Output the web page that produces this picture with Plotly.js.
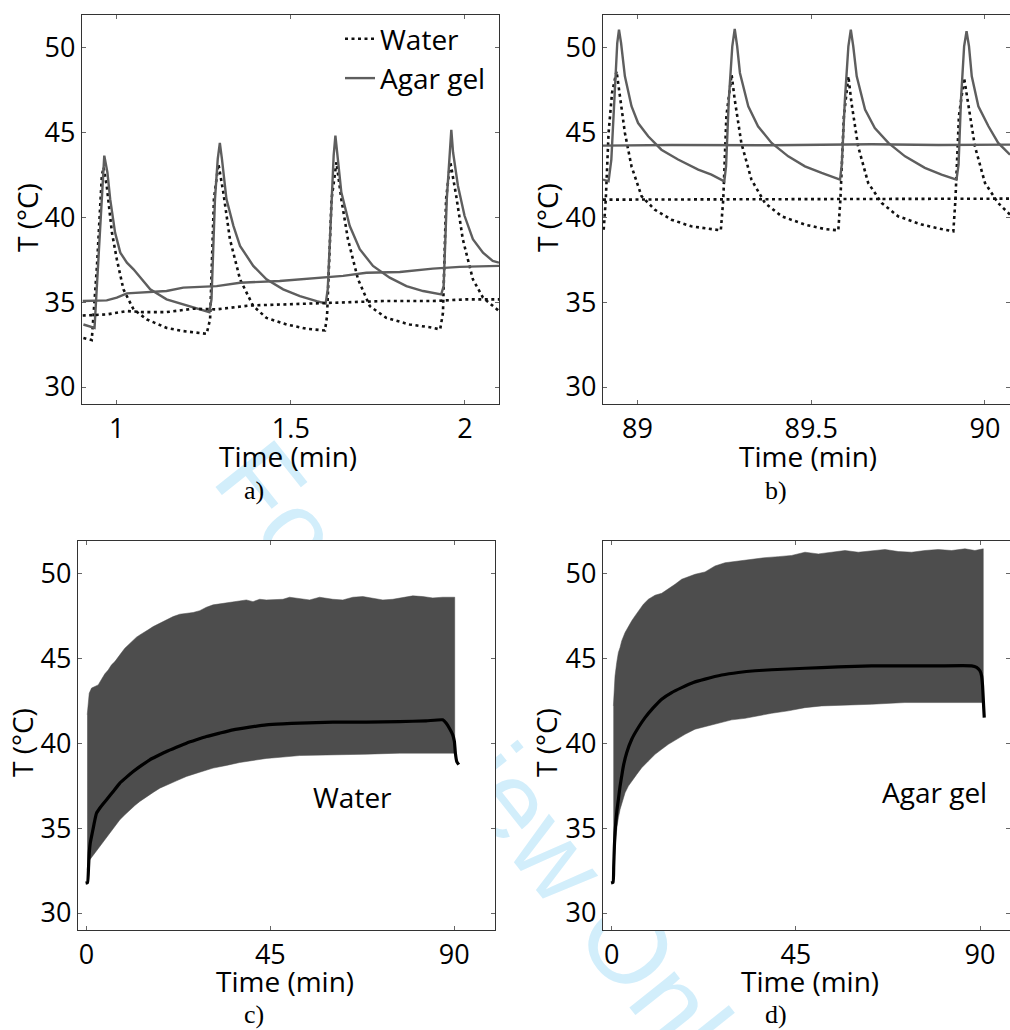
<!DOCTYPE html>
<html>
<head>
<meta charset="utf-8">
<script src="https://cdn.plot.ly/plotly-3.0.1.min.js"></script>
<style>
html,body{margin:0;padding:0;background:#fff;overflow:hidden;}
#wm{position:absolute;left:0;top:0;z-index:0;}
#chart{position:absolute;left:0;top:0;width:1010px;height:1030px;z-index:1;}
</style>
</head>
<body>
<svg id="wm" width="1010" height="1030"><text x="210" y="480" transform="rotate(51.5 210 480)" font-family="Liberation Sans, Arial, sans-serif" font-size="109" fill="#d2eefb">For Review Only</text></svg>
<div id="chart"></div>
<script>
// ---------- Panel a: first minutes (Water dotted, Agar gel solid) ----------
const aWaterT = [0.904,0.916,0.928,0.943,0.957,0.962,0.971,0.986,1.000,1.019,1.048,1.086,1.143,1.191,1.258,1.268,1.279,1.292,1.306,1.325,1.354,1.392,1.430,1.488,1.545,1.598,1.604,1.617,1.631,1.645,1.664,1.693,1.727,1.774,1.841,1.899,1.929,1.937,1.946,1.958,1.975,1.994,2.023,2.052,2.080,2.098];
const aWaterV = [32.89,32.83,32.76,37.13,42.44,42.93,41.85,39.09,37.52,35.75,34.57,33.98,33.48,33.29,33.13,33.98,41.06,43.13,41.46,38.70,36.34,34.76,34.07,33.68,33.43,33.33,34.17,41.06,43.23,41.06,38.70,36.34,34.76,34.07,33.68,33.52,33.39,34.37,41.06,43.27,41.26,38.70,36.34,35.26,34.76,34.47];
const aAgarT = [0.904,0.936,0.964,0.973,0.981,0.995,1.010,1.029,1.048,1.096,1.143,1.191,1.239,1.266,1.272,1.282,1.290,1.296,1.302,1.315,1.335,1.354,1.392,1.430,1.478,1.526,1.574,1.600,1.606,1.617,1.623,1.628,1.634,1.645,1.669,1.698,1.736,1.784,1.832,1.880,1.932,1.939,1.948,1.956,1.961,1.966,1.980,1.999,2.023,2.052,2.080,2.098];
const aAgarV = [33.68,33.48,43.62,42.64,41.06,39.09,37.91,37.32,36.93,35.75,35.16,34.86,34.57,34.41,35.16,41.06,43.43,44.37,43.43,41.06,39.49,38.31,37.13,36.34,35.75,35.35,35.06,34.92,35.75,41.06,43.62,44.80,43.62,41.46,39.49,38.11,37.13,36.44,35.94,35.65,35.45,35.94,41.06,43.82,45.14,43.82,41.85,40.08,38.70,37.91,37.42,37.32];
const aWaterMeanT = [0.902,0.971,1.029,1.076,1.143,1.220,1.287,1.382,1.478,1.574,1.669,1.765,1.908,2.004,2.098];
const aWaterMeanV = [34.21,34.27,34.47,34.41,34.41,34.61,34.57,34.80,34.86,34.92,35.00,35.06,35.06,35.16,35.16];
const aAgarMeanT = [0.902,0.971,1.000,1.029,1.143,1.191,1.287,1.354,1.468,1.574,1.650,1.717,1.813,1.908,1.985,2.098];
const aAgarMeanV = [35.06,35.10,35.26,35.51,35.65,35.85,35.94,36.14,36.24,36.44,36.54,36.73,36.77,36.97,37.07,37.13];

// ---------- Panel b: last minutes ----------
const bWaterT = [88.903,88.909,88.917,88.927,88.940,88.949,88.964,88.983,89.012,89.050,89.098,89.155,89.213,89.240,89.247,89.256,89.271,89.280,89.299,89.328,89.367,89.415,89.482,89.539,89.578,89.584,89.594,89.607,89.616,89.635,89.664,89.703,89.750,89.818,89.875,89.909,89.915,89.925,89.940,89.952,89.971,90.000,90.038,90.072];
const bWaterV = [39.26,41.03,44.96,47.31,48.59,47.31,44.96,42.99,41.23,40.44,39.85,39.46,39.30,39.22,41.03,45.94,48.39,46.92,44.37,42.21,40.83,40.05,39.56,39.30,39.22,41.03,45.94,48.29,46.72,44.17,42.01,40.83,40.05,39.56,39.30,39.17,41.03,45.94,48.19,46.72,44.17,42.01,40.83,40.15];
const bAgarT = [88.901,88.917,88.925,88.935,88.942,88.947,88.953,88.964,88.983,89.002,89.031,89.069,89.117,89.175,89.213,89.250,89.255,89.263,89.273,89.280,89.287,89.295,89.319,89.347,89.386,89.434,89.482,89.530,89.583,89.588,89.597,89.607,89.614,89.621,89.631,89.655,89.683,89.722,89.770,89.827,89.875,89.918,89.924,89.931,89.940,89.947,89.954,89.962,89.981,90.010,90.038,90.072];
const bAgarV = [42.21,42.11,43.39,47.90,50.25,51.04,50.25,48.29,46.53,45.54,44.76,43.97,43.39,42.80,42.50,42.11,42.99,46.92,50.06,51.08,50.06,48.49,46.53,45.35,44.37,43.58,42.99,42.60,42.21,43.09,46.92,50.06,51.04,50.06,48.29,46.33,45.25,44.37,43.58,42.90,42.50,42.21,43.09,46.92,50.06,50.94,50.06,48.29,46.53,45.35,44.37,43.68];
const bWaterMeanT = [88.901,89.290,89.674,90.072];
const bWaterMeanV = [41.03,41.03,41.07,41.09];
const bAgarMeanT = [88.901,89.098,89.386,89.674,89.866,90.072];
const bAgarMeanV = [44.21,44.25,44.23,44.29,44.25,44.27];

// ---------- Panel c: Water, full 90 min (max/min envelope and mean) ----------
const cUpperT = [0.16,0.41,0.65,1.22,2.04,2.85,3.67,4.48,5.30,6.11,6.93,7.74,8.56,9.37,10.19,11.00,12.22,13.04,13.85,15.08,16.30,17.93,19.56,21.19,22.82,24.45,26.08,27.71,29.34,30.97,32.60,34.23,35.86,37.49,39.12,40.75,42.38,44.01,45.64,48.08,49.71,52.16,54.60,57.05,60.31,62.75,65.20,67.64,70.09,72.53,74.98,77.42,79.87,82.31,84.76,87.20,90.14];
const cUpperV = [41.67,42.60,42.94,43.24,43.33,43.43,43.76,44.08,44.31,44.61,44.80,45.10,45.33,45.59,45.78,45.98,46.24,46.37,46.47,46.67,46.86,47.06,47.25,47.45,47.59,47.65,47.69,47.80,48.00,48.14,48.20,48.27,48.33,48.39,48.43,48.33,48.47,48.43,48.43,48.47,48.59,48.53,48.43,48.59,48.47,48.43,48.59,48.63,48.53,48.43,48.47,48.59,48.67,48.63,48.55,48.59,48.59];
const cLowerT = [0.16,0.41,0.81,1.63,2.44,3.26,4.07,4.89,5.70,6.93,8.15,9.37,10.59,11.82,13.04,14.67,16.30,17.93,19.56,22.00,24.45,27.71,30.97,34.23,37.49,40.75,44.01,48.08,52.16,56.23,60.31,68.46,76.61,84.76,90.14];
const cLowerV = [32.55,32.94,33.14,33.43,33.73,33.96,34.25,34.51,34.75,35.10,35.49,35.78,36.08,36.33,36.57,36.86,37.10,37.35,37.55,37.78,38.04,38.29,38.53,38.69,38.86,38.98,39.10,39.18,39.27,39.29,39.31,39.35,39.41,39.41,39.41];
const cMeanT = [-0.24,0.24,0.49,0.65,0.90,1.22,1.63,2.04,2.44,3.26,4.07,4.89,6.52,8.15,9.78,11.41,13.45,15.48,17.52,19.56,22.00,24.45,26.89,29.34,32.60,35.86,39.93,44.01,48.08,52.16,60.31,68.46,76.61,83.13,87.20,88.02,88.83,89.65,90.06,90.30,90.63,91.12];
const cMeanV = [31.76,31.80,32.75,33.53,34.12,34.51,35.00,35.49,35.88,36.18,36.43,36.67,37.16,37.65,38.00,38.33,38.69,39.02,39.27,39.51,39.76,40.00,40.20,40.39,40.59,40.78,40.94,41.08,41.14,41.18,41.24,41.24,41.27,41.31,41.37,41.18,40.88,40.49,40.10,39.41,38.92,38.73];

// ---------- Panel d: Agar gel, full 90 min (max/min envelope and mean) ----------
const dUpperT = [0.41,0.57,0.81,1.22,1.63,2.04,2.44,3.26,4.07,4.89,5.70,6.51,7.74,8.96,10.59,12.21,13.84,15.47,17.10,18.73,20.36,22.80,25.24,27.69,30.94,34.20,37.46,40.72,43.97,47.23,50.49,53.75,57.00,60.26,63.52,66.78,70.03,73.29,76.55,79.80,83.06,86.32,88.76,90.80];
const dUpperV = [42.19,43.36,43.95,44.74,45.34,45.63,46.02,46.51,46.90,47.20,47.49,47.78,48.18,48.47,48.71,48.82,49.06,49.35,49.65,49.80,49.94,50.08,50.43,50.62,50.72,50.86,50.92,50.98,51.05,51.24,51.14,51.24,51.34,51.24,51.34,51.40,51.28,51.24,51.34,51.40,51.34,51.44,51.34,51.44];
const dLowerT = [0.41,0.65,0.98,1.30,1.63,2.04,2.44,3.26,4.07,4.89,6.11,7.33,8.96,10.59,12.21,13.84,15.47,17.92,20.36,22.80,26.06,29.32,32.57,35.83,39.09,43.16,47.23,51.30,55.37,63.52,71.66,79.80,87.95,90.80];
const dLowerV = [32.36,33.34,34.33,35.11,35.61,36.10,36.49,37.08,37.47,37.77,38.16,38.55,38.95,39.34,39.64,39.93,40.19,40.52,40.82,40.97,41.17,41.37,41.46,41.60,41.76,41.90,42.09,42.19,42.23,42.29,42.39,42.35,42.39,42.39];
const dMeanT = [-0.16,0.33,0.49,0.65,0.81,1.06,1.30,1.63,2.04,2.44,2.85,3.66,4.89,6.51,8.14,10.18,12.21,14.66,17.10,19.95,22.80,26.87,30.94,35.02,39.09,47.23,55.37,63.52,71.66,79.80,87.95,89.17,89.98,90.39,90.63,90.88,91.04];
const dMeanV = [31.77,31.81,32.75,33.93,34.72,35.51,36.10,36.69,37.47,38.06,38.65,39.44,40.23,40.92,41.50,42.09,42.59,42.98,43.27,43.57,43.77,44.01,44.16,44.26,44.32,44.41,44.49,44.55,44.55,44.55,44.55,44.46,44.26,43.96,43.37,42.19,41.50];

// ---------- tick labels ----------
const yTicks = [30,35,40,45,50];
const aTicks = [1,1.5,2];
const bTicks = [89,89.5,90];
const cdTicks = [0,45,90];

const AGAR_COL = '#5e5e5e';
const WATER_COL = '#111111';
const BAND_COL = '#4d4d4d';
const FONT = 'Open Sans, Lato, sans-serif';
const SERIF = 'Liberation Serif, Times New Roman, serif';

function water(x,y,xa,ya,name,show){
  return {x:x,y:y,xaxis:xa,yaxis:ya,type:'scatter',mode:'lines',name:name,showlegend:show,
    line:{color:WATER_COL,width:2.6,dash:'3px,3.5px'},hoverinfo:'skip'};
}
function agar(x,y,xa,ya,name,show){
  return {x:x,y:y,xaxis:xa,yaxis:ya,type:'scatter',mode:'lines',name:name,showlegend:show,
    line:{color:AGAR_COL,width:2.4},hoverinfo:'skip'};
}
function band(ut,uv,lt,lv,xa,ya){
  const xs = ut.concat(lt.slice().reverse());
  const ys = uv.concat(lv.slice().reverse());
  return {x:xs,y:ys,xaxis:xa,yaxis:ya,type:'scatter',mode:'lines',fill:'toself',
    fillcolor:BAND_COL,line:{width:0.5,color:BAND_COL},showlegend:false,hoverinfo:'skip'};
}
function mean(x,y,xa,ya){
  return {x:x,y:y,xaxis:xa,yaxis:ya,type:'scatter',mode:'lines',showlegend:false,
    line:{color:'#000',width:3.2,shape:'spline',smoothing:0.4},hoverinfo:'skip'};
}

const traces = [
  water(aWaterT,aWaterV,'x','y','Water',true),
  agar(aAgarT,aAgarV,'x','y','Agar gel',true),
  water(aWaterMeanT,aWaterMeanV,'x','y','Water mean',false),
  agar(aAgarMeanT,aAgarMeanV,'x','y','Agar gel mean',false),
  water(bWaterT,bWaterV,'x2','y2','Water',false),
  agar(bAgarT,bAgarV,'x2','y2','Agar gel',false),
  water(bWaterMeanT,bWaterMeanV,'x2','y2','Water mean',false),
  agar(bAgarMeanT,bAgarMeanV,'x2','y2','Agar gel mean',false),
  band(cUpperT,cUpperV,cLowerT,cLowerV,'x3','y3'),
  mean(cMeanT,cMeanV,'x3','y3'),
  band(dUpperT,dUpperV,dLowerT,dLowerV,'x4','y4'),
  mean(dMeanT,dMeanV,'x4','y4')
];

const W = 1010, H = 1030;
function axBase(){
  return {showline:true,linecolor:'#333',linewidth:1.2,mirror:'ticks',ticks:'inside',ticklen:4,
    tickcolor:'#666',tickwidth:1,showgrid:false,zeroline:false,fixedrange:true,
    tickfont:{family:FONT,size:27,color:'#000'}};
}
function xax(dom,range,ticks,anchor){
  return Object.assign(axBase(),{domain:dom,range:range,tickvals:ticks,ticktext:ticks.map(String),anchor:anchor});
}
function yax(dom,anchor){
  return Object.assign(axBase(),{domain:dom,range:[29,51.9],tickvals:yTicks,ticktext:yTicks.map(String),anchor:anchor});
}
const px = v => v/W, py = v => 1 - v/H;
function note(text,x,y,font,size,angle){
  return {text:text,x:px(x),y:py(y),xref:'paper',yref:'paper',xanchor:'center',yanchor:'middle',
    textangle:angle||0,showarrow:false,font:{family:font,size:size,color:'#000'}};
}

const layout = {
  width:W,height:H,margin:{l:0,r:0,t:0,b:0},
  paper_bgcolor:'rgba(0,0,0,0)',plot_bgcolor:'#ffffff',
  showlegend:true,
  legend:{x:px(340),y:py(14),xanchor:'left',yanchor:'top',bgcolor:'rgba(0,0,0,0)',
    font:{family:FONT,size:28,color:'#000'},itemwidth:30,tracegroupgap:0,traceorder:'normal'},
  xaxis: xax([px(82),px(499)],[0.9,2.098],aTicks,'y'),
  yaxis: yax([py(404),py(15)],'x'),
  xaxis2: xax([px(603),1],[88.901,90.072],bTicks,'y2'),
  yaxis2: yax([py(404),py(15)],'x2'),
  xaxis3: xax([px(78),px(495)],[-2.1,100],cdTicks,'y3'),
  yaxis3: yax([py(930),py(541)],'x3'),
  xaxis4: xax([px(603),1],[-2.13,97.33],cdTicks,'y4'),
  yaxis4: yax([py(930),py(541)],'x4'),
  annotations:[
    note('Time (min)',288,456,FONT,28),
    note('Time (min)',808,456,FONT,28),
    note('Time (min)',285,981,FONT,28),
    note('Time (min)',810,981,FONT,28),
    note('T (°C)',27,218,FONT,28,-90),
    note('T (°C)',547,218,FONT,28,-90),
    note('T (°C)',22,743,FONT,28,-90),
    note('T (°C)',546,743,FONT,28,-90),
    note('a)',254,490,SERIF,26),
    note('b)',776,490,SERIF,26),
    note('c)',254,1014,SERIF,26),
    note('d)',776,1014,SERIF,26),
    note('Water',352,797,FONT,28),
    note('Agar gel',934,792,FONT,28)
  ]
};

Plotly.newPlot('chart',traces,layout,{displayModeBar:false,staticPlot:true});
</script>
</body>
</html>
